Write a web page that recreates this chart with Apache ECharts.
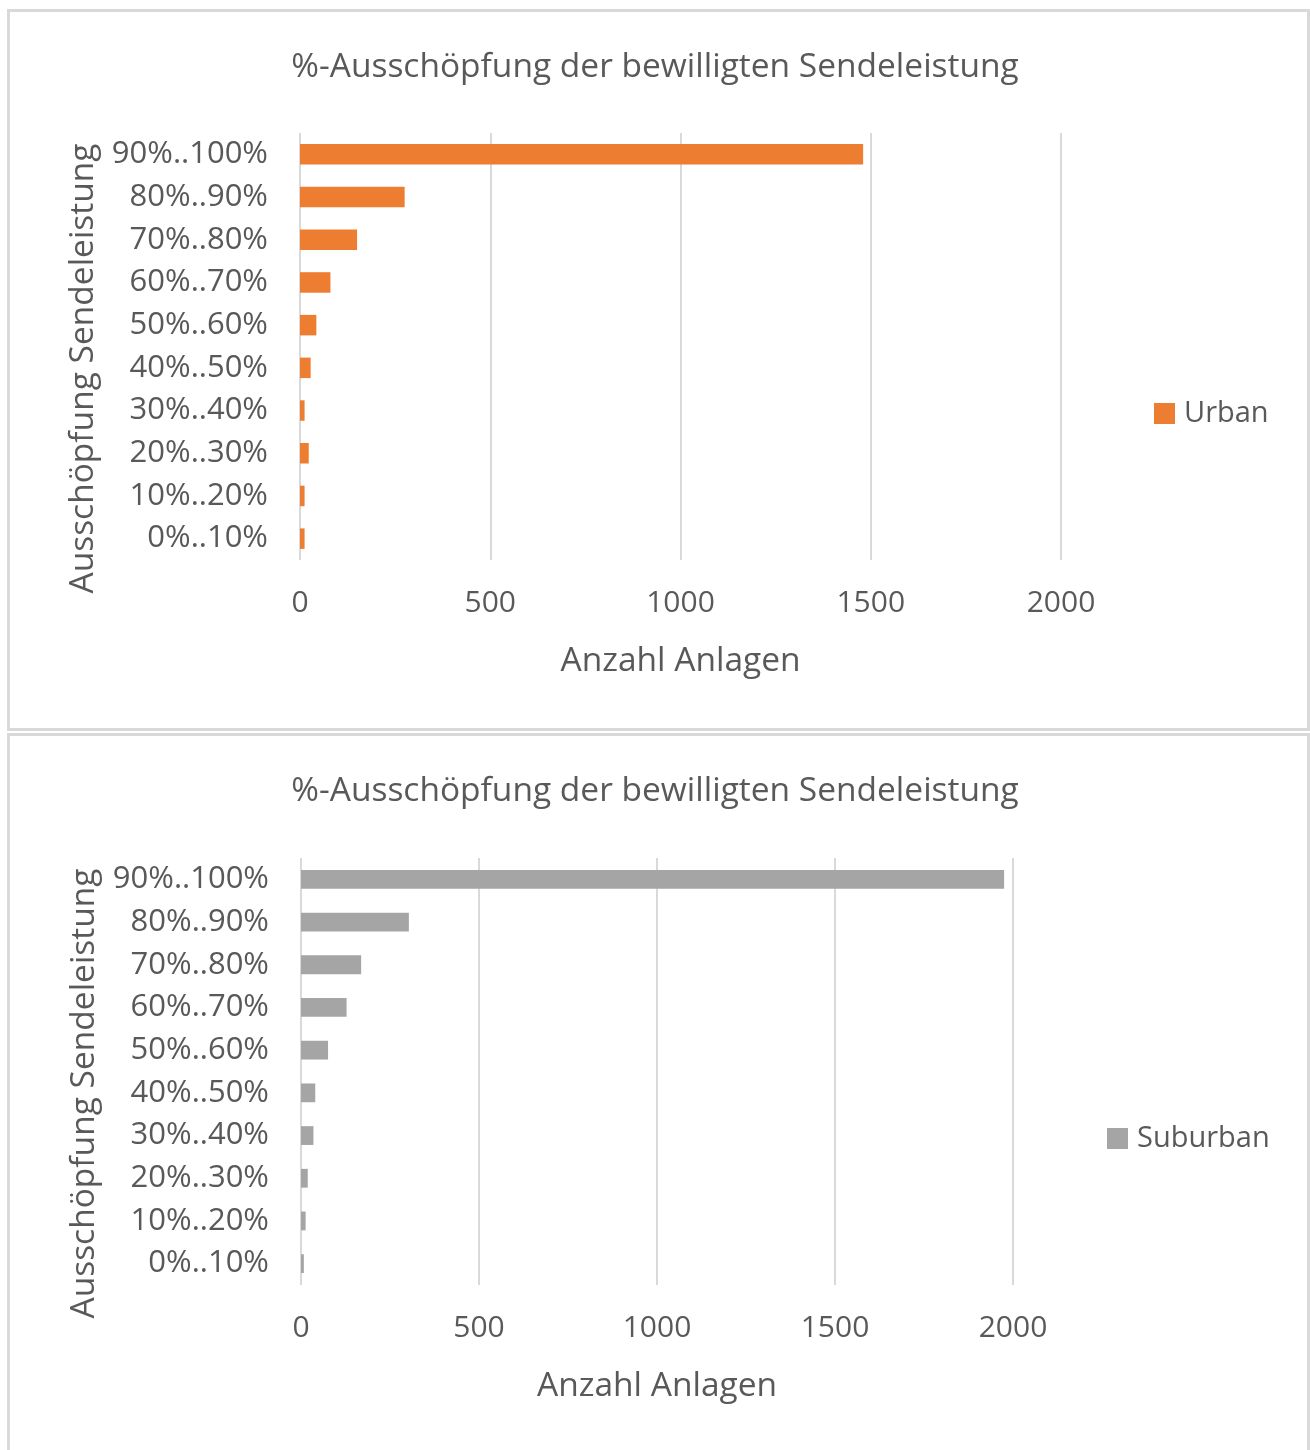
<!DOCTYPE html>
<html>
<head>
<meta charset="utf-8">
<script src="https://cdn.jsdelivr.net/npm/echarts@6/dist/echarts.min.js"></script>
<style>
html,body{margin:0;padding:0;background:#fff;}
#c{width:1310px;height:1450px;}
</style>
</head>
<body>
<div id="c"></div>
<script>
const categories = ['90%..100%','80%..90%','70%..80%','60%..70%','50%..60%','40%..50%','30%..40%','20%..30%','10%..20%','0%..10%'];
const urbanValues = [1480, 275, 150, 80, 43, 28, 12, 23, 12, 12];
const suburbanValues = [1975, 303, 169, 128, 76, 40, 35, 19, 13, 8];
const xTicks = [0, 500, 1000, 1500, 2000];
const chartTitle = '%-Ausschöpfung der bewilligten Sendeleistung';
const xName = 'Anzahl Anlagen';
const yName = 'Ausschöpfung Sendeleistung';

const FONT = 'Open Sans';
const TXT = '#595959';
const GRID = '#d9d9d9';

const chart = echarts.init(document.getElementById('c'), null, {renderer:'canvas'});

function xAxisCfg(gi){
  return {
    type:'value', gridIndex:gi, min:xTicks[0], max:xTicks[xTicks.length-1], interval:xTicks[1]-xTicks[0],
    axisLine:{show:false}, axisTick:{show:false},
    splitLine:{show:true, lineStyle:{color:GRID, width:2}},
    axisLabel:{color:TXT, fontFamily:FONT, fontSize:30, margin:28, formatter:function(v){return String(v);}},
    name:xName, nameLocation:'middle', nameGap:84,
    nameTextStyle:{color:TXT, fontFamily:FONT, fontSize:33.5}
  };
}
function yAxisCfg(gi){
  return {
    type:'category', gridIndex:gi, data:categories, inverse:true,
    axisLine:{show:false}, axisTick:{show:false},
    axisLabel:{color:TXT, fontFamily:FONT, fontSize:31, margin:32, padding:[4,0,0,0]},
    name:yName, nameLocation:'middle', nameGap:197, nameRotate:90,
    nameTextStyle:{color:TXT, fontFamily:FONT, fontSize:33.5, padding:[0,44,0,0]}
  };
}

chart.setOption({
  animation:false,
  graphic:[
    {type:'rect', shape:{x:8.5, y:10.5, width:1300, height:719}, style:{fill:'none', stroke:GRID, lineWidth:3}},
    {type:'rect', shape:{x:8.5, y:734.5, width:1300, height:720}, style:{fill:'none', stroke:GRID, lineWidth:3}}
  ],
  title:[
    {text:chartTitle, left:'center', top:45, textStyle:{color:TXT, fontFamily:FONT, fontSize:33.5, fontWeight:'normal'}},
    {text:chartTitle, left:'center', top:769, textStyle:{color:TXT, fontFamily:FONT, fontSize:33.5, fontWeight:'normal'}}
  ],
  legend:[
    {data:['Urban'], left:1149, top:394, itemWidth:21, itemHeight:21, icon:'rect', itemGap:10,
     textStyle:{color:TXT, fontFamily:FONT, fontSize:29, padding:[0,0,0,4]}},
    {data:['Suburban'], left:1102, top:1119, itemWidth:21, itemHeight:21, icon:'rect', itemGap:10,
     textStyle:{color:TXT, fontFamily:FONT, fontSize:29, padding:[0,0,0,4]}}
  ],
  grid:[
    {left:300, top:133, width:761, height:427},
    {left:301, top:858, width:712, height:427}
  ],
  xAxis:[xAxisCfg(0), xAxisCfg(1)],
  yAxis:[yAxisCfg(0), yAxisCfg(1)],
  series:[
    {name:'Urban', type:'bar', xAxisIndex:0, yAxisIndex:0, data:urbanValues, barWidth:'48%', itemStyle:{color:'#ED7D31'}},
    {name:'Suburban', type:'bar', xAxisIndex:1, yAxisIndex:1, data:suburbanValues, barWidth:'44%', itemStyle:{color:'#A5A5A5'}}
  ]
});
</script>
</body>
</html>
